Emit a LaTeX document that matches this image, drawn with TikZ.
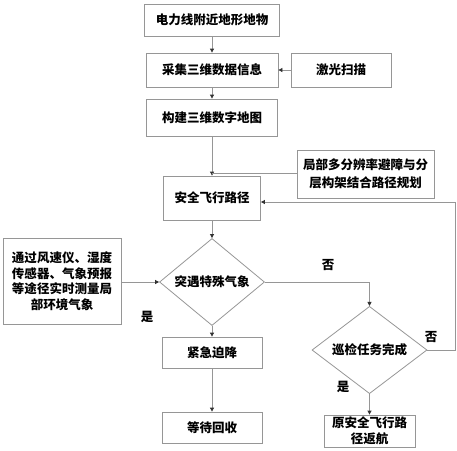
\documentclass[tikz,border=0pt]{standalone}
\usepackage{fontspec}
\usepackage{tikz}
\usepackage{xcolor}
\usetikzlibrary{shapes.geometric,arrows.meta}

\newfontfamily\cjk{Noto Sans CJK SC}
\definecolor{linegray}{RGB}{150,150,150}

\tikzset{
  boxnode/.style={draw=linegray,line width=0.8pt,inner sep=1pt,align=center,
    font=\cjk\bfseries\fontsize{12.5}{15.5}\selectfont},
  decision/.style={boxnode,diamond,inner sep=0pt},
  flowline/.style={draw=linegray,line width=0.8pt},
  flowarrow/.style={flowline,-{Triangle[length=4pt,width=4pt,color=black!80]}},
  answer/.style={font=\cjk\bfseries\fontsize{12.5}{15}\selectfont}
}

\begin{document}
\begin{tikzpicture}[x=1pt,y=-1pt]

\useasboundingbox (0,0) rectangle (457,450);

\node[boxnode,minimum width=135pt,minimum height=32pt] (terrain) at (212,20) {电力线附近地形地物};
\node[boxnode,minimum width=132pt,minimum height=34pt] (collect) at (212,70) {采集三维数据信息};
\node[boxnode,minimum width=100pt,minimum height=34pt] (laser) at (341,70) {激光扫描};
\node[boxnode,minimum width=131pt,minimum height=37pt] (map) at (212,117.5) {构建三维数字地图};
\node[boxnode,minimum width=137pt,minimum height=48pt,
  font=\cjk\bfseries\fontsize{12.5}{18}\selectfont] (plan) at (365.5,174) {局部多分辨率避障与分\\层构架结合路径规划};
\node[boxnode,minimum width=97pt,minimum height=44pt] (path) at (212,198) {安全飞行路径};
\node[decision,minimum width=105pt,minimum height=59pt] (weather) at (212,282) {突遇特殊气象};
\node[boxnode,minimum width=118pt,minimum height=86pt] (sensor) at (62,281)
  {通过风速仪、湿度\\传感器、气象预报\\等途径实时测量局\\部环境气象};
\node[boxnode,minimum width=100pt,minimum height=31pt] (land) at (212,352.5) {紧急迫降};
\node[boxnode,minimum width=100pt,minimum height=31pt] (wait) at (212,427.5) {等待回收};
\node[decision,minimum width=115pt,minimum height=60pt] (done) at (369.5,350) {巡检任务完成};
\node[boxnode,minimum width=91pt,minimum height=32pt,inner sep=0pt] (back) at (369.5,431) {原安全飞行路\\径返航};

\coordinate (join) at (212,173);
\coordinate (turn) at (369.5,282);
\coordinate (loopa) at (455,350);
\coordinate (loopb) at (455,202);

\draw[flowarrow] (terrain) -- (collect);
\draw[flowarrow] (laser) -- (collect);
\draw[flowarrow] (collect) -- (map);
\draw[flowarrow] (map) -- (path);
\draw[flowline] (plan.west |- join) -- (join);
\draw[flowarrow] (path) -- (weather);
\draw[flowarrow] (sensor.east |- weather) -- (weather.west);
\draw[flowarrow] (weather) -- (land);
\draw[flowarrow] (land) -- (wait);
\draw[flowarrow] (weather.east) -- (turn) -- (done.north);
\draw[flowarrow] (done.east) -- (loopa) -- (loopb) -- (path.east |- loopb);
\draw[flowarrow] (done.south) -- (back.north);

\node[answer] (no1) at (328,265) {否};
\node[answer] (yes1) at (147,317) {是};
\node[answer] (no2) at (431,337) {否};
\node[answer] (yes2) at (343,387) {是};

\end{tikzpicture}
\end{document}
